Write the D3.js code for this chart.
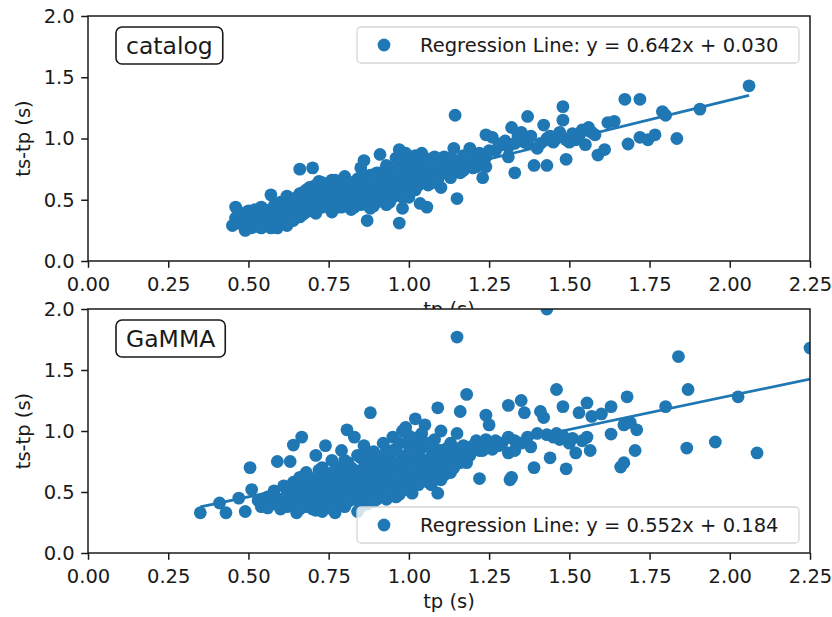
<!DOCTYPE html>
<html><head><meta charset="utf-8">
<script src="https://cdn.jsdelivr.net/npm/d3@7"></script>
<style>body{margin:0;background:#fff} text{font-family:"DejaVu Sans",sans-serif;fill:#1a1a1a}</style>
</head><body><svg id="c" width="832" height="617"></svg>
<script>
const xTicks=[0,0.25,0.5,0.75,1.0,1.25,1.5,1.75,2.0,2.25];
const yTicks=[0,0.5,1.0,1.5,2.0];
const panelNames=["catalog","GaMMA"];
const slopes=[0.642,0.552];
const intercepts=[0.030,0.184];
const xLabel="tp (s)";
const yLabel="ts-tp (s)";

const catalogPoints=[[0.45,0.29],[0.46,0.44],[0.46,0.35],[0.47,0.31],[0.48,0.38],[0.49,0.25],[0.49,0.33],[0.50,0.41],[0.50,0.29],[0.51,0.36],[0.51,0.31],[0.52,0.42],[0.52,0.34],[0.53,0.28],[0.53,0.38],[0.54,0.33],[0.54,0.44],[0.55,0.30],[0.55,0.37],[0.56,0.41],[0.56,0.34],[0.57,0.27],[0.57,0.54],[0.57,0.38],[0.58,0.45],[0.58,0.32],[0.59,0.40],[0.59,0.27],[0.60,0.36],[0.60,0.48],[0.61,0.42],[0.61,0.31],[0.62,0.53],[0.62,0.38],[0.63,0.45],[0.63,0.34],[0.64,0.41],[0.64,0.50],[0.65,0.37],[0.65,0.46],[0.66,0.75],[0.66,0.55],[0.66,0.42],[0.67,0.49],[0.67,0.38],[0.68,0.58],[0.68,0.45],[0.69,0.52],[0.69,0.41],[0.70,0.76],[0.70,0.60],[0.70,0.48],[0.71,0.55],[0.71,0.39],[0.72,0.65],[0.72,0.50],[0.73,0.44],[0.73,0.58],[0.74,0.62],[0.74,0.52],[0.75,0.47],[0.75,0.57],[0.76,0.66],[0.76,0.40],[0.77,0.53],[0.77,0.60],[0.78,0.48],[0.78,0.63],[0.79,0.55],[0.79,0.44],[0.80,0.59],[0.80,0.69],[0.81,0.51],[0.81,0.64],[0.82,0.42],[0.82,0.57],[0.83,0.61],[0.83,0.49],[0.84,0.67],[0.84,0.54],[0.85,0.76],[0.85,0.46],[0.86,0.82],[0.86,0.58],[0.87,0.33],[0.87,0.63],[0.88,0.52],[0.88,0.70],[0.89,0.60],[0.89,0.45],[0.90,0.66],[0.90,0.56],[0.91,0.87],[0.91,0.72],[0.92,0.50],[0.92,0.63],[0.93,0.78],[0.93,0.58],[0.94,0.68],[0.94,0.48],[0.95,0.74],[0.95,0.62],[0.96,0.55],[0.96,0.84],[0.97,0.91],[0.97,0.31],[0.97,0.66],[0.98,0.76],[0.98,0.43],[0.99,0.60],[0.99,0.88],[1.00,0.82],[1.00,0.70],[1.00,0.52],[1.01,0.64],[1.01,0.76],[1.02,0.58],[1.02,0.86],[1.03,0.71],[1.035,0.47],[1.04,0.88],[1.04,0.66],[1.05,0.78],[1.056,0.44],[1.06,0.62],[1.07,0.77],[1.07,0.70],[1.08,0.85],[1.09,0.66],[1.10,0.60],[1.10,0.78],[1.11,0.85],[1.11,0.72],[1.12,0.80],[1.13,0.68],[1.14,0.92],[1.144,1.19],[1.15,0.82],[1.15,0.51],[1.16,0.72],[1.17,0.86],[1.18,0.78],[1.19,0.92],[1.20,0.83],[1.21,0.77],[1.22,0.88],[1.23,0.68],[1.24,1.03],[1.24,0.85],[1.24,0.77],[1.26,1.01],[1.27,0.90],[1.29,0.96],[1.31,0.93],[1.31,0.85],[1.32,1.09],[1.33,0.72],[1.35,1.05],[1.36,0.97],[1.37,1.18],[1.37,0.96],[1.39,0.78],[1.40,0.92],[1.42,1.11],[1.43,0.78],[1.43,1.00],[1.45,0.97],[1.46,1.00],[1.48,1.26],[1.48,1.15],[1.49,0.99],[1.49,0.83],[1.50,0.97],[1.52,0.99],[1.54,1.07],[1.55,0.95],[1.56,1.09],[1.58,1.03],[1.589,0.865],[1.61,0.91],[1.62,1.13],[1.64,1.14],[1.673,1.32],[1.683,0.955],[1.72,1.32],[1.72,1.01],[1.745,0.99],[1.767,1.03],[1.79,1.22],[1.80,1.19],[1.835,1.00],[1.907,1.24],[2.06,1.43],
[0.47,0.40],[0.48,0.30],[0.50,0.35],[0.51,0.27],[0.52,0.38],[0.53,0.32],[0.54,0.27],[0.55,0.42],[0.56,0.29],[0.57,0.33],[0.58,0.40],[0.59,0.35],[0.60,0.30],[0.60,0.42],[0.61,0.37],[0.62,0.29],[0.62,0.46],[0.63,0.40],[0.64,0.33],[0.64,0.45],[0.65,0.52],[0.66,0.36],[0.67,0.44],[0.67,0.56],[0.68,0.40],[0.68,0.50],[0.69,0.46],[0.69,0.60],[0.70,0.42],[0.70,0.54],[0.71,0.49],[0.71,0.62],[0.72,0.44],[0.72,0.56],[0.73,0.51],[0.73,0.64],[0.74,0.45],[0.74,0.57],[0.75,0.52],[0.75,0.63],[0.76,0.46],[0.76,0.58],[0.77,0.43],[0.77,0.66],[0.78,0.54],[0.78,0.58],[0.79,0.50],[0.79,0.62],[0.80,0.45],[0.80,0.54],[0.81,0.58],[0.81,0.47],[0.82,0.64],[0.82,0.52],[0.83,0.56],[0.83,0.44],[0.84,0.60],[0.84,0.48],[0.85,0.53],[0.85,0.66],[0.86,0.50],[0.86,0.70],[0.87,0.55],[0.87,0.46],[0.88,0.60],[0.88,0.43],[0.89,0.66],[0.89,0.53],[0.90,0.48],[0.90,0.72],[0.91,0.60],[0.91,0.52],[0.92,0.68],[0.92,0.56],[0.93,0.46],[0.93,0.64],[0.94,0.56],[0.94,0.75],[0.95,0.52],[0.95,0.68],[0.96,0.62],[0.96,0.72],[0.97,0.56],[0.97,0.80],[0.98,0.64],[0.98,0.52],[0.99,0.74],[0.99,0.56],[1.00,0.62],[1.00,0.76],[1.01,0.70],[1.01,0.82],[1.02,0.66],[1.02,0.74],[1.03,0.62],[1.03,0.80],[1.04,0.72],[1.05,0.68],[1.05,0.84],[1.06,0.74],[1.06,0.80],[1.08,0.72],[1.08,0.64],[1.09,0.78],[1.12,0.72],[1.13,0.84],[1.14,0.76],[1.16,0.80],[1.17,0.74],[1.19,0.84],[1.20,0.76],[1.22,0.80],[1.25,0.90],[1.28,0.94],[1.30,0.98],[1.33,0.96],[1.34,1.02],[1.38,1.02],[1.41,0.96],[1.44,1.02],[1.47,1.05],[1.51,1.04],[1.53,1.02],[1.57,1.05]];

const gammaPoints=[[0.35,0.33],[0.41,0.41],[0.43,0.33],[0.47,0.45],[0.49,0.34],[0.505,0.70],[0.51,0.52],[0.53,0.43],[0.54,0.38],[0.56,0.46],[0.57,0.40],[0.58,0.51],[0.59,0.75],[0.60,0.44],[0.60,0.36],[0.61,0.55],[0.62,0.48],[0.63,0.75],[0.63,0.40],[0.64,0.885],[0.64,0.58],[0.65,0.33],[0.65,0.50],[0.66,0.62],[0.666,0.95],[0.67,0.45],[0.67,0.54],[0.68,0.38],[0.68,0.66],[0.69,0.50],[0.70,0.58],[0.70,0.42],[0.71,0.80],[0.71,0.35],[0.72,0.62],[0.72,0.52],[0.73,0.46],[0.73,0.70],[0.74,0.88],[0.74,0.56],[0.75,0.40],[0.75,0.65],[0.76,0.50],[0.76,0.76],[0.77,0.60],[0.77,0.33],[0.78,0.45],[0.78,0.70],[0.79,0.55],[0.79,0.84],[0.80,0.65],[0.80,0.38],[0.807,1.01],[0.81,0.50],[0.81,0.74],[0.82,0.60],[0.82,0.44],[0.83,0.95],[0.83,0.68],[0.84,0.54],[0.84,0.34],[0.85,0.78],[0.85,0.47],[0.86,0.62],[0.86,0.88],[0.87,0.56],[0.87,0.40],[0.88,1.15],[0.88,0.72],[0.89,0.50],[0.89,0.83],[0.90,0.64],[0.90,0.44],[0.91,0.76],[0.91,0.57],[0.92,0.90],[0.925,0.46],[0.93,0.68],[0.93,0.52],[0.94,0.80],[0.94,0.60],[0.95,0.95],[0.95,0.72],[0.96,0.55],[0.96,0.85],[0.97,0.64],[0.97,0.48],[0.98,0.78],[0.98,1.00],[0.99,1.03],[0.99,0.70],[1.00,0.58],[1.00,0.88],[1.01,0.49],[1.01,0.76],[1.02,1.10],[1.02,0.66],[1.03,0.95],[1.03,0.82],[1.04,0.60],[1.04,0.72],[1.05,1.05],[1.05,0.88],[1.06,0.68],[1.07,0.79],[1.07,0.56],[1.08,0.93],[1.09,1.19],[1.09,0.49],[1.09,0.72],[1.10,1.00],[1.10,0.84],[1.11,0.64],[1.12,0.76],[1.13,0.90],[1.13,0.66],[1.14,0.82],[1.15,1.77],[1.15,0.98],[1.16,1.16],[1.16,0.74],[1.17,0.88],[1.18,1.30],[1.18,0.74],[1.19,0.86],[1.21,0.92],[1.22,0.61],[1.23,0.84],[1.24,1.13],[1.24,0.93],[1.25,1.05],[1.26,0.85],[1.28,0.88],[1.31,1.21],[1.31,0.95],[1.31,0.82],[1.315,0.60],[1.32,0.62],[1.33,0.84],[1.35,1.25],[1.35,0.90],[1.36,1.15],[1.38,0.87],[1.39,0.70],[1.41,1.16],[1.42,1.11],[1.43,2.00],[1.43,0.97],[1.44,0.78],[1.45,0.95],[1.46,1.34],[1.47,0.93],[1.48,1.20],[1.49,0.69],[1.50,0.90],[1.52,0.82],[1.53,1.15],[1.555,1.23],[1.555,0.95],[1.565,0.84],[1.57,1.12],[1.60,1.14],[1.63,1.20],[1.63,0.975],[1.66,0.705],[1.67,0.74],[1.67,1.05],[1.68,1.28],[1.69,1.07],[1.705,0.84],[1.71,1.01],[1.80,1.20],[1.84,1.61],[1.866,0.86],[1.87,1.34],[1.955,0.91],[2.026,1.28],[2.085,0.82],[2.25,1.68],
[0.55,0.42],[0.56,0.37],[0.58,0.46],[0.59,0.40],[0.61,0.44],[0.62,0.38],[0.63,0.52],[0.64,0.45],[0.65,0.40],[0.66,0.50],[0.66,0.36],[0.67,0.62],[0.68,0.46],[0.68,0.55],[0.69,0.40],[0.69,0.62],[0.70,0.50],[0.70,0.36],[0.71,0.56],[0.71,0.46],[0.72,0.40],[0.72,0.68],[0.73,0.56],[0.73,0.34],[0.74,0.48],[0.74,0.64],[0.75,0.54],[0.75,0.44],[0.76,0.60],[0.76,0.36],[0.77,0.50],[0.77,0.68],[0.78,0.40],[0.78,0.58],[0.79,0.46],[0.79,0.66],[0.80,0.54],[0.80,0.76],[0.81,0.42],[0.81,0.62],[0.82,0.52],[0.82,0.70],[0.83,0.44],[0.83,0.58],[0.84,0.64],[0.84,0.80],[0.85,0.54],[0.85,0.38],[0.86,0.70],[0.86,0.46],[0.87,0.64],[0.87,0.80],[0.88,0.52],[0.88,0.62],[0.89,0.70],[0.89,0.42],[0.90,0.56],[0.90,0.80],[0.91,0.66],[0.91,0.48],[0.92,0.60],[0.92,0.74],[0.93,0.84],[0.93,0.44],[0.94,0.70],[0.94,0.52],[0.95,0.64],[0.95,0.84],[0.96,0.74],[0.96,0.46],[0.97,0.56],[0.97,0.90],[0.98,0.62],[0.98,0.70],[0.99,0.80],[0.99,0.52],[1.00,0.66],[1.00,0.96],[1.01,0.84],[1.01,0.60],[1.02,0.76],[1.02,0.92],[1.03,0.56],[1.03,0.70],[1.04,0.86],[1.04,0.98],[1.05,0.64],[1.05,0.76],[1.06,0.90],[1.06,0.58],[1.07,0.70],[1.07,0.86],[1.08,0.62],[1.08,0.78],[1.09,0.84],[1.10,0.70],[1.10,0.60],[1.11,0.78],[1.12,0.86],[1.12,0.68],[1.13,0.74],[1.14,0.70],[1.15,0.80],[1.16,0.86],[1.17,0.78],[1.19,0.80],[1.20,0.88],[1.22,0.84],[1.25,0.88],[1.27,0.92],[1.29,0.90],[1.33,0.92],[1.37,0.95],[1.40,0.98],[1.46,0.98],[1.48,0.96],[1.51,0.94],[1.54,0.92]];

const datasets=[catalogPoints,gammaPoints];
const color="#1f77b4";
const FS=19.5;
const svg=d3.select("#c");
const L=88,R=810;
const frames=[{top:16,bottom:261,legendY:27},{top:309,bottom:553,legendY:507}];
const x=d3.scaleLinear().domain([0,2.25]).range([L,R]);

frames.forEach((f,i)=>{
  const y=d3.scaleLinear().domain([0,2]).range([f.bottom,f.top]);
  const g=svg.append("g");
  g.append("rect").attr("x",L).attr("y",f.top).attr("width",R-L).attr("height",f.bottom-f.top).attr("fill","#fff");
  const cid="clip"+i;
  g.append("clipPath").attr("id",cid).append("rect").attr("x",L).attr("y",f.top).attr("width",R-L).attr("height",f.bottom-f.top);
  const plot=g.append("g").attr("clip-path",`url(#${cid})`);
  const pts=datasets[i];
  plot.selectAll("circle").data(pts).join("circle")
    .attr("cx",d=>x(d[0])).attr("cy",d=>y(d[1])).attr("r",6.4).attr("fill",color);
  const xmin=d3.min(pts,d=>d[0]), xmax=d3.max(pts,d=>d[0]);
  const line=d3.line().x(d=>x(d)).y(d=>y(slopes[i]*d+intercepts[i]));
  plot.append("path").attr("d",line([xmin,xmax])).attr("stroke",color).attr("stroke-width",2.8).attr("fill","none");

  const xa=g.append("g").attr("transform",`translate(0,${f.bottom})`)
    .call(d3.axisBottom(x).tickValues(xTicks).tickFormat(d3.format(".2f")).tickSize(6.8).tickPadding(9));
  const ya=g.append("g").attr("transform",`translate(${L},0)`)
    .call(d3.axisLeft(y).tickValues(yTicks).tickFormat(d3.format(".1f")).tickSize(6.8).tickPadding(6.5));
  [xa,ya].forEach(a=>{a.select(".domain").remove();a.selectAll("line").attr("stroke","#1a1a1a").attr("stroke-width",1.5);
    a.selectAll("text").style("font-size",FS+"px").style("font-family","DejaVu Sans").attr("fill","#1a1a1a");});
  g.append("rect").attr("x",L).attr("y",f.top).attr("width",R-L).attr("height",f.bottom-f.top)
    .attr("fill","none").attr("stroke","#1a1a1a").attr("stroke-width",1.5);

  const nb=g.append("g");
  const nt=nb.append("text").attr("x",126).attr("y",f.top+29.5+8).style("font-size","23.5px").text(panelNames[i]);
  const bb=nt.node().getBBox();
  nb.insert("rect","text").attr("x",116).attr("y",f.top+11).attr("width",bb.width+20).attr("height",37)
    .attr("rx",6).attr("fill","#fff").attr("stroke","#1a1a1a").attr("stroke-width",1.6);

  const lg=g.append("g");
  lg.append("rect").attr("x",357).attr("y",f.legendY).attr("width",442).attr("height",36).attr("rx",4)
    .attr("fill","rgba(255,255,255,0.8)").attr("stroke","#d6d6d6").attr("stroke-width",1.3);
  lg.append("circle").attr("cx",384).attr("cy",f.legendY+18).attr("r",6.4).attr("fill",color);
  lg.append("text").attr("x",420).attr("y",f.legendY+18).attr("dy","0.36em").style("font-size",FS+"px")
    .text(`Regression Line: y = ${slopes[i].toFixed(3)}x + ${intercepts[i].toFixed(3)}`);

  g.append("text").attr("x",(L+R)/2).attr("y",f.bottom+55).attr("text-anchor","middle").style("font-size",FS+"px").text(xLabel);
  g.append("text").attr("transform",`translate(29.5,${(f.top+f.bottom)/2}) rotate(-90)`).attr("text-anchor","middle").style("font-size",FS+"px").text(yLabel);
});
</script></body></html>
